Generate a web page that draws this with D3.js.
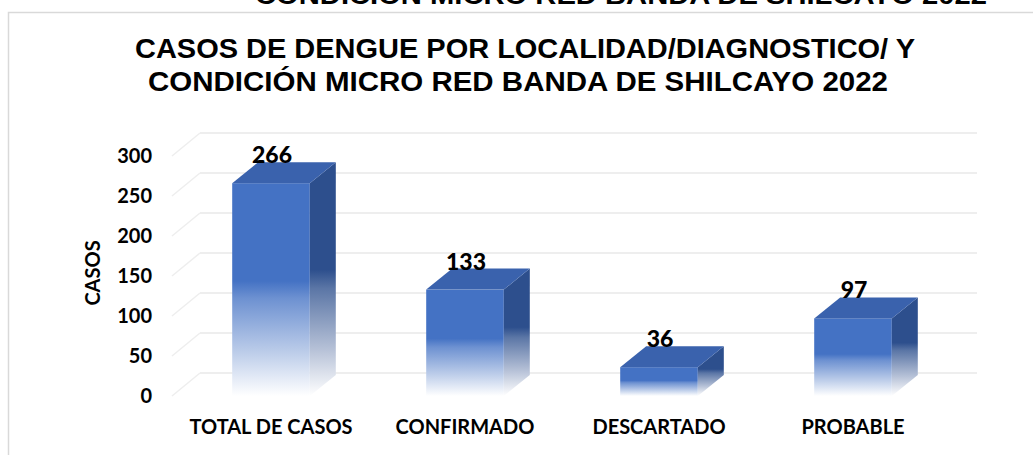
<!DOCTYPE html>
<html>
<head>
<meta charset="utf-8">
<script src="https://cdn.jsdelivr.net/npm/d3@7"></script>
<style>
  body { margin: 0; background: #fff; }
  svg { display: block; }
</style>
</head>
<body>
<svg width="1033" height="455"></svg>
<script>
var categories = ["TOTAL DE CASOS", "CONFIRMADO", "DESCARTADO", "PROBABLE"];
var casos = [266, 133, 36, 97];
var yTicks = [0, 50, 100, 150, 200, 250, 300];
var titleLines = ["CASOS DE DENGUE POR LOCALIDAD/DIAGNOSTICO/ Y", "CONDICIÓN MICRO RED BANDA DE SHILCAYO 2022"];
var cutTitle = "CONDICIÓN MICRO RED BANDA DE SHILCAYO 2022";

var svg = d3.select("svg"),
    width = +svg.attr("width"),
    height = +svg.attr("height");

// wall depth and bar depth (fake 3d)
var wdx = 28, wdy = -23;
var bdx = 26, bdy = -21;

var x = d3.scaleBand().domain(categories).range([174, 950]).paddingInner(0.6).paddingOuter(0.3);
var y = d3.scaleLinear().domain([0, 300]).range([396, 156]);

svg.append("rect").attr("width", width).attr("height", height).attr("fill", "#fff");

// leftover of title above the frame
svg.append("text")
    .attr("x", 255).attr("y", 4)
    .attr("textLength", 732).attr("lengthAdjust", "spacingAndGlyphs")
    .style("font-family", "Liberation Sans, Arial, sans-serif")
    .style("font-weight", "bold").style("font-size", "26px")
    .attr("fill", "#000")
    .text(cutTitle);

// frame
svg.append("rect")
    .attr("x", 8.5).attr("y", 12.5)
    .attr("width", width + 20).attr("height", height + 20)
    .attr("fill", "#fff").attr("stroke", "#d9d9d9").attr("stroke-width", 1.5);

// title
var titleX = [135, 148], titleW = [780, 740], titleY = [58, 91];
svg.append("g").selectAll("text")
    .data(titleLines)
    .enter().append("text")
    .attr("x", function(d, i) { return titleX[i]; })
    .attr("y", function(d, i) { return titleY[i]; })
    .attr("textLength", function(d, i) { return titleW[i]; })
    .attr("lengthAdjust", "spacingAndGlyphs")
    .style("font-family", "Liberation Sans, Arial, sans-serif")
    .style("font-weight", "bold").style("font-size", "27px")
    .attr("fill", "#000")
    .text(function(d) { return d; });

// gridlines: back wall + left side diagonals
var grid = svg.append("g").attr("class", "grid");
var x0 = 172, xEnd = 977;
grid.selectAll(".back").data(yTicks).enter().append("line")
    .attr("x1", x0 + wdx).attr("x2", xEnd)
    .attr("y1", function(d) { return y(d) + wdy; })
    .attr("y2", function(d) { return y(d) + wdy; })
    .attr("stroke", "#e8e8e8").attr("stroke-width", 1.5);
grid.selectAll(".side").data(yTicks).enter().append("line")
    .attr("x1", x0).attr("x2", x0 + wdx)
    .attr("y1", function(d) { return y(d); })
    .attr("y2", function(d) { return y(d) + wdy; })
    .attr("stroke", "#eeeeee").attr("stroke-width", 1.5);

// gradients
var defs = svg.append("defs");
function fade(id, c) {
  var g = defs.append("linearGradient").attr("id", id)
      .attr("x1", 0).attr("y1", 0).attr("x2", 0).attr("y2", 1);
  g.append("stop").attr("offset", "0%").attr("stop-color", c);
  g.append("stop").attr("offset", "46%").attr("stop-color", c);
  g.append("stop").attr("offset", "54%").attr("stop-color", d3.interpolateRgb(c, "#fff")(0.22));
  g.append("stop").attr("offset", "80%").attr("stop-color", d3.interpolateRgb(c, "#fff")(0.65));
  g.append("stop").attr("offset", "100%").attr("stop-color", "#fff");
}
fade("frontFade", "#4472c4");
fade("sideFade", "#2d4f8d");

var data = categories.map(function(c, i) { return {cat: c, v: casos[i]}; });
var bars = svg.append("g").selectAll("g").data(data).enter().append("g");

bars.append("rect")
    .attr("x", function(d) { return x(d.cat); })
    .attr("y", function(d) { return y(d.v); })
    .attr("width", x.bandwidth())
    .attr("height", function(d) { return y(0) - y(d.v); })
    .attr("fill", "url(#frontFade)");

bars.append("polygon")
    .attr("points", function(d) {
      var a = x(d.cat) + x.bandwidth(), t = y(d.v), b = y(0);
      return [[a, t], [a + bdx, t + bdy], [a + bdx, b + bdy], [a, b]].join(" ");
    })
    .attr("fill", "url(#sideFade)");

bars.append("polygon")
    .attr("points", function(d) {
      var a = x(d.cat), w = x.bandwidth(), t = y(d.v);
      return [[a, t], [a + bdx, t + bdy], [a + w + bdx, t + bdy], [a + w, t]].join(" ");
    })
    .attr("fill", "#3a62ad");

// value labels
bars.append("text")
    .attr("x", function(d) { return x(d.cat) + x.bandwidth() / 2 + 1; })
    .attr("y", function(d) { return y(d.v) + bdy + 1; })
    .attr("text-anchor", "middle")
    .style("font-family", "Lato, sans-serif").style("font-weight", "900").style("font-size", "23px")
    .attr("fill", "#000")
    .text(function(d) { return d.v; });

// y axis labels
svg.append("g").selectAll("text").data(yTicks).enter().append("text")
    .attr("x", 152).attr("y", function(d) { return y(d); })
    .attr("dy", "0.36em")
    .attr("text-anchor", "end")
    .style("font-family", "Lato, sans-serif").style("font-weight", "bold").style("font-size", "20px")
    .attr("fill", "#000")
    .text(function(d) { return d; });

// category labels
svg.append("g").selectAll("text").data(categories).enter().append("text")
    .attr("x", function(d) { return x(d) + x.bandwidth() / 2; })
    .attr("y", 434)
    .attr("text-anchor", "middle")
    .style("font-family", "Lato, sans-serif").style("font-weight", "bold").style("font-size", "20px")
    .attr("fill", "#000")
    .text(function(d) { return d; });

// axis title
svg.append("text")
    .attr("transform", "translate(100,273) rotate(-90)")
    .attr("text-anchor", "middle")
    .style("font-family", "Lato, sans-serif").style("font-weight", "bold").style("font-size", "20px")
    .attr("fill", "#000")
    .text("CASOS");
</script>
</body>
</html>
